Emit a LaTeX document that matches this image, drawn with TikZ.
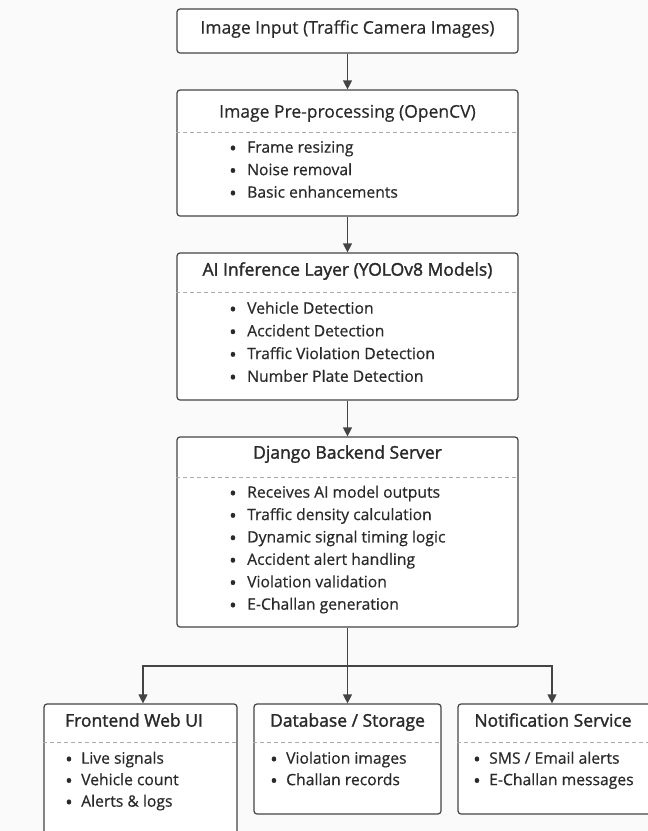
\documentclass[tikz,border=0pt]{standalone}
\usepackage{fontspec}
\setmainfont{Open Sans}
\newfontfamily\regf[FakeBold=0.5]{Open Sans}
\newfontfamily\semib[FakeBold=1.6]{Open Sans}
\usetikzlibrary{arrows.meta,calc}
\definecolor{linec}{HTML}{444444}
\definecolor{txtc}{HTML}{2A2A2A}
\definecolor{dashc}{HTML}{AAAAAA}
\definecolor{bgc}{HTML}{FAFAFA}
\tikzset{
  box/.style={draw=linec, line width=1.2pt, rounded corners=3pt, fill=white, inner sep=0pt},
  ttl/.style={text=txtc, inner sep=0pt, anchor=mid, font=\fontsize{17.5}{20}\regf},
  bttl/.style={ttl, font=\fontsize{17.5}{20}\semib},
  item/.style={text=txtc, inner sep=0pt, anchor=mid west, font=\fontsize{15.7}{18}\regf},
  sep/.style={draw=dashc, line width=0.8pt, dash pattern=on 4pt off 3pt},
  arr/.style={draw=linec, line width=1.2pt, -{Triangle[width=9pt,length=9pt]}},
}
\newcommand{\bul}{\smash{\raisebox{-2.6pt}{\fontsize{20}{20}\selectfont\textbullet}}}
\newcommand{\itm}[1]{\makebox[18pt][l]{\bul}#1}
\newcommand{\itmb}[1]{\makebox[16pt][l]{\bul}#1}
\begin{document}
\begin{tikzpicture}[x=1pt,y=1pt]
\clip (0,0) rectangle (648,-831);
\fill[bgc] (0,0) rectangle (648,-831);
% boxes
\node[box, minimum width=341, minimum height=44] (b1) at (347.5,-31) {};
\node[box, minimum width=341, minimum height=126] (b2) at (347.5,-153) {};
\node[box, minimum width=341, minimum height=147] (b3) at (347.5,-326.5) {};
\node[box, minimum width=341, minimum height=190] (b4) at (347.5,-532) {};
\node[box, minimum width=193, minimum height=140] (f1) at (140.5,-774) {};
\node[box, minimum width=187, minimum height=110] (f2) at (347.5,-759) {};
\node[box, minimum width=193, minimum height=110] (f3) at (554.5,-759) {};
% separators
\draw[sep] (b2.west |- 0,-132) -- (b2.east |- 0,-132);
\draw[sep] (b3.west |- 0,-292) -- (b3.east |- 0,-292);
\draw[sep] (b4.west |- 0,-477) -- (b4.east |- 0,-477);
\draw[sep] (f1.west |- 0,-742) -- (f1.east |- 0,-742);
\draw[sep] (f2.west |- 0,-742) -- (f2.east |- 0,-742);
\draw[sep] (f3.west |- 0,-742) -- (f3.east |- 0,-742);
% titles
\node[ttl] (t1) at (347.5,-31) {Image Input (Traffic Camera Images)};
\node[ttl] (t2) at (347.5,-115) {Image Pre-processing (OpenCV)};
\node[bttl] (t3) at (347.5,-273) {AI Inference Layer (YOLOv8 Models)};
\node[bttl] (t4) at (347.5,-456) {Django Backend Server};
\node[bttl] (t5) at (134,-724) {Frontend Web UI};
\node[bttl] (t6) at (347.5,-724) {Database / Storage};
\node[bttl] (t7) at (553,-724) {Notification Service};
% items
\foreach \t [count=\i] in {Frame resizing, Noise removal, Basic enhancements}
  \node[item] (i2\i) at (229,{-150-22.5*(\i-1)}) {\itm{\t}};
\foreach \t [count=\i] in {Vehicle Detection, Accident Detection, Traffic Violation Detection, Number Plate Detection}
  \node[item] (i3\i) at (229,{-311-22.7*(\i-1)}) {\itm{\t}};
\foreach \t [count=\i] in {Receives AI model outputs, Traffic density calculation, Dynamic signal timing logic, Accident alert handling, Violation validation, E-Challan generation}
  \node[item] (i4\i) at (229,{-495-22.4*(\i-1)}) {\itm{\t}};
\foreach \t [count=\i] in {Live signals, Vehicle count, Alerts \& logs}
  \node[item] (i5\i) at (65,{-761-21.5*(\i-1)}) {\itmb{\t}};
\foreach \t [count=\i] in {Violation images, Challan records}
  \node[item] (i6\i) at (270,{-761-21.5*(\i-1)}) {\itmb{\t}};
\foreach \t [count=\i] in {SMS / Email alerts, E-Challan messages}
  \node[item] (i7\i) at (473,{-761-21.5*(\i-1)}) {\itmb{\t}};
% connectors
\draw[arr] (b1.south) -- (b2.north);
\draw[arr] (b2.south) -- (b3.north);
\draw[arr] (b3.south) -- (b4.north);
\coordinate (j) at (347.5,-666);
\draw[arr] (b4.south) -- (f2.north);
\draw[arr] (j) -| ([xshift=2.5pt]f1.north);
\draw[arr] (j) -| ([xshift=-2.5pt]f3.north);
\end{tikzpicture}
\end{document}
